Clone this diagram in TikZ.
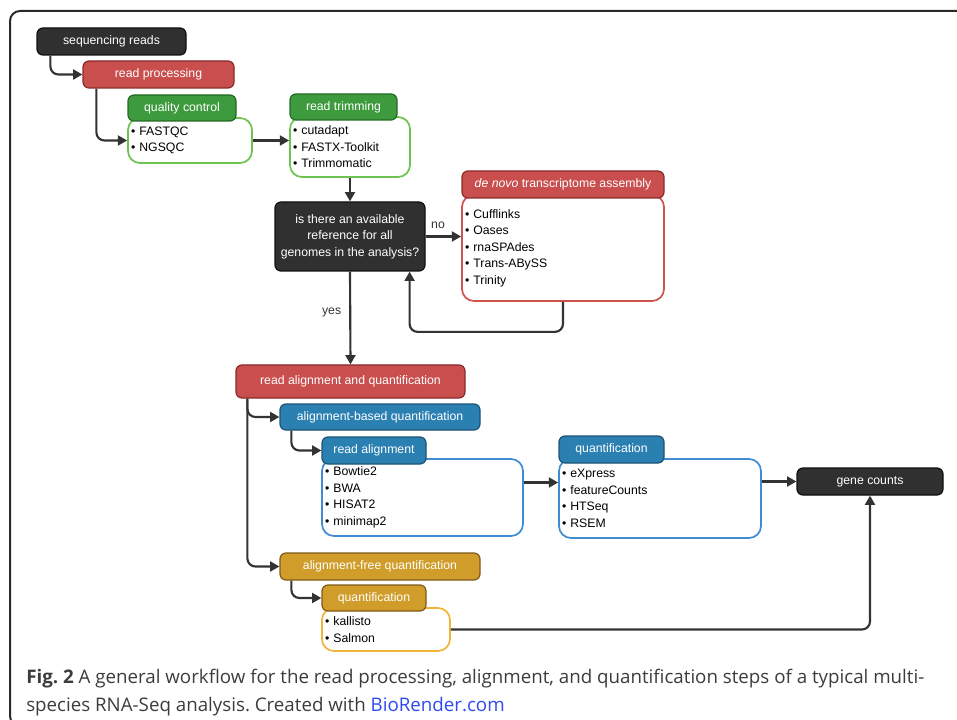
\documentclass[tikz,border=0pt]{standalone}
\usepackage{fontspec}
\setmainfont{Liberation Sans}
\newfontfamily\capfont{Open Sans}
\usetikzlibrary{arrows.meta,calc}
\frenchspacing
\definecolor{dk}{HTML}{303030}
\definecolor{dkb}{HTML}{111111}
\definecolor{redf}{HTML}{C94F4F}
\definecolor{redb}{HTML}{8B2A2A}
\definecolor{redl}{HTML}{D0524E}
\definecolor{grnf}{HTML}{3D9A3D}
\definecolor{grnb}{HTML}{236B23}
\definecolor{grnl}{HTML}{6EC24F}
\definecolor{bluf}{HTML}{2B80B2}
\definecolor{blub}{HTML}{1B5475}
\definecolor{blul}{HTML}{3F8DD0}
\definecolor{gldf}{HTML}{D09D2A}
\definecolor{gldb}{HTML}{80591A}
\definecolor{gldl}{HTML}{F2B33D}
\definecolor{lc}{HTML}{333333}
\definecolor{captxt}{HTML}{3C3C3C}
\definecolor{linkc}{HTML}{2F4BF0}
\newcommand\pbox[7]{%
  \pgfmathsetmacro\pbw{(#5-#3)*0.75}%
  \pgfmathsetmacro\pbh{(#6-#4)*0.75}%
  \pgfmathsetmacro\pbt{(#5-#3-6)*0.75}%
  \node[#2, minimum width=\pbw pt, minimum height=\pbh pt] (#1) at ({(#3+#5)/2},{(#4+#6)/2}) {#7};}
\begin{document}
\frenchspacing
\begin{tikzpicture}[x=0.75pt,y=-0.75pt,
  font=\fontsize{9.2}{12.4}\selectfont,
  conn/.style={draw=lc, line width=1.6pt, rounded corners=6pt, -{Triangle[length=7pt,width=7.5pt]}},
  hbase/.style={line width=0.9pt, rounded corners=4.5pt, text=white, inner sep=0pt},
  darkbox/.style={hbase, fill=dk, draw=dkb},
  redh/.style={hbase, fill=redf, draw=redb},
  grnh/.style={hbase, fill=grnf, draw=grnb},
  bluh/.style={hbase, fill=bluf, draw=blub},
  gldh/.style={hbase, fill=gldf, draw=gldb},
  bodyb/.style={fill=white, line width=1.3pt, rounded corners=9pt, align=left, inner sep=0pt, text width=\pbt pt, text=black},
  redbd/.style={bodyb, draw=redl},
  grnbd/.style={bodyb, draw=grnl},
  blubd/.style={bodyb, draw=blul},
  gldbd/.style={bodyb, draw=gldl},
  lbl/.style={text=lc, inner sep=0pt}
]
\useasboundingbox (0,0) rectangle (957,720);
\begin{scope}
  \clip (0,0) rectangle (957,720);
  \draw[line width=1.5pt, draw=dkb!90, rounded corners=7.5pt] (10,11) rectangle (975,726);
\end{scope}

% top part
\pbox{seq}{darkbox}{37}{28}{186}{55}{sequencing reads}
\pbox{proc}{redh}{83}{61}{234}{88}{read processing}
\pbox{qcb}{grnbd}{128}{118}{252}{163}{• FASTQC\\• NGSQC}
\pbox{qch}{grnh}{128}{95}{236}{121}{quality control}
\pbox{trb}{grnbd}{290}{117}{410}{177}{• cutadapt\\• FASTX-Toolkit\\• Trimmomatic}
\pbox{trh}{grnh}{290}{94}{397}{120}{read trimming}
\pbox{dec}{darkbox, align=center}{275}{202}{425}{271}{is there an available\\reference for all\\genomes in the analysis?}
\pbox{dnb}{redbd}{462}{195}{664}{301}{• Cufflinks\\• Oases\\• rnaSPAdes\\• Trans-ABySS\\• Trinity}
\pbox{dnh}{redh}{462}{171}{664}{198}{\textit{de novo} transcriptome assembly}

% lower part
\pbox{raq}{redh}{236}{365}{465}{398}{read alignment and quantification}
\pbox{abq}{bluh}{280}{404}{480}{430}{alignment-based quantification}
\pbox{rab}{blubd}{322}{459}{523}{536}{• Bowtie2\\• BWA\\• HISAT2\\• minimap2}
\pbox{rah}{bluh}{322}{437}{426}{464}{read alignment}
\pbox{qb}{blubd}{559}{459}{761}{538}{• eXpress\\• featureCounts\\• HTSeq\\• RSEM}
\pbox{qh}{bluh}{559}{436}{664}{463}{quantification}
\pbox{gene}{darkbox}{797}{468}{943}{495}{gene counts}
\pbox{afq}{gldh}{280}{553}{480}{580}{alignment-free quantification}
\pbox{kb}{gldbd}{322}{608}{450}{651}{• kallisto\\• Salmon}
\pbox{kh}{gldh}{322}{585}{426}{611}{quantification}

% connectors
\coordinate (raout) at ($(rab.east)+(0,-15)$);
\coordinate (loopend) at ($(dec.south east)+(-16,0)$);
\draw[conn] ($(seq.south west)+(14,0)$) |- (proc.west);
\draw[conn] ($(proc.south west)+(14,0)$) |- (qcb.west);
\draw[conn] (qcb.east) -- (qcb.east -| trb.west);
\draw[conn] (trb.south) -- (dec.north);
\draw[conn] (dec.east) -- (dec.east -| dnb.west) node[lbl, pos=0.35, above=5pt] (no) {no};
\draw[conn] (dnb.south) -- ++(0,30) -| (loopend);
\draw[conn] (dec.south) -- (raq.north) node[lbl, pos=0.44, left=6pt] (yes) {yes};
\draw[conn] ($(raq.south west)+(12,0)$) |- (abq.west);
\draw[conn] ($(raq.south west)+(12,0)$) |- (afq.west);
\draw[conn] ($(abq.south west)+(12,0)$) |- (rah.west);
\draw[conn] ($(afq.south west)+(12,0)$) |- (kh.west);
\draw[conn] (raout) -- (raout -| qb.west);
\draw[conn] (gene.west -| qb.east) -- (gene.west);
\draw[conn] (kb.east) -| (gene.south);

% caption
\node[anchor=base west, inner sep=0pt, text=captxt, font=\capfont\fontsize{14.05}{21}\selectfont] (cap1) at (26,683)
  {\textbf{Fig. 2} A general workflow for the read processing, alignment, and quantification steps of a typical multi-};
\node[anchor=base west, inner sep=0pt, text=captxt, font=\capfont\fontsize{14.05}{21}\selectfont] (cap2) at (26,711)
  {species RNA-Seq analysis. Created with \textcolor{linkc}{BioRender.com}};
\end{tikzpicture}
\end{document}
